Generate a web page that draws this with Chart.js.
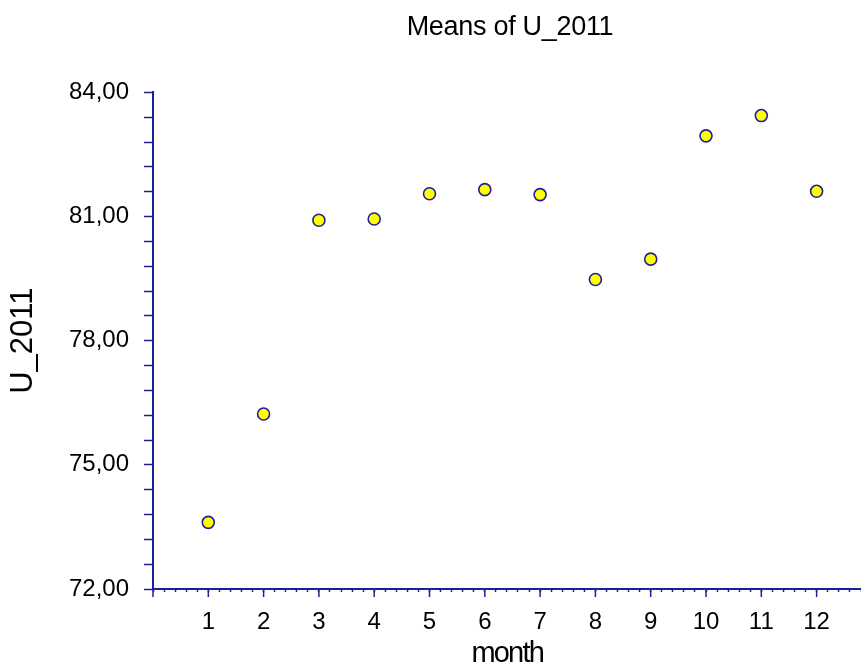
<!DOCTYPE html>
<html>
<head>
<meta charset="utf-8">
<script src="https://cdn.jsdelivr.net/npm/chart.js@4.4.1/dist/chart.umd.min.js"></script>
<style>
  html, body { margin: 0; background: #fff; overflow: hidden; }
  /* a bit wider than the window so the x axis runs off the right edge like the original */
  #wrap { width: 869px; height: 666px; }
</style>
</head>
<body>
<div id="wrap"><canvas id="meansChart"></canvas></div>
<script>
// data
const months = [1, 2, 3, 4, 5, 6, 7, 8, 9, 10, 11, 12];
const meansU2011 = [73.61, 76.23, 80.91, 80.94, 81.55, 81.65, 81.53, 79.48, 79.97, 82.95, 83.44, 81.61];
const yMajorTicks = [72, 75, 78, 81, 84];

const navy = "#1f1f99";
const fontFamily = "'Liberation Sans', Arial, sans-serif";

// formats 84 -> "84,00"
function fmtComma(v) {
    return v.toFixed(2).replace(".", ",");
}

// title is centred over the plot area, and title texts look condensed
const condensePlugin = {
    id: "condense",
    afterLayout(chart) {
        const ctx = chart.ctx;
        const tb = chart.titleBlock;
        if (tb && !tb._condensed) {
            const orig = tb.draw.bind(tb);
            tb.draw = function (area) {
                ctx.save();
                ctx.translate(153 + 708 / 2 + 3 - chart.width / 2, 0);
                ctx.letterSpacing = "-0.3px";
                orig(area);
                ctx.restore();
            };
            tb._condensed = true;
        }
        const xs = chart.scales.x;
        if (xs && !xs._condensed) {
            const origT = xs.drawTitle.bind(xs);
            xs.drawTitle = function () {
                ctx.save();
                ctx.letterSpacing = "-1.8px";
                origT();
                ctx.restore();
            };
            xs._condensed = true;
        }
    }
};

// longer ticks on whole months
const majorTickPlugin = {
    id: "majorTicks",
    afterDraw(chart) {
        const ctx = chart.ctx;
        const xs = chart.scales.x;
        const bottom = chart.chartArea.bottom;
        ctx.save();
        ctx.strokeStyle = navy;
        ctx.lineWidth = 1.5;
        for (let m = 0; m <= 12; m++) {
            const px = xs.getPixelForValue(m);
            ctx.beginPath();
            ctx.moveTo(px, bottom);
            ctx.lineTo(px, bottom + 8);
            ctx.stroke();
        }
        ctx.restore();
    }
};

const points = months.map((m, i) => ({ x: m, y: meansU2011[i] }));

new Chart(document.getElementById("meansChart"), {
    type: "scatter",
    data: {
        datasets: [{
            data: points,
            backgroundColor: "#ffff00",
            borderColor: navy,
            borderWidth: 1.6,
            pointRadius: 6,
            pointHoverRadius: 6
        }]
    },
    options: {
        responsive: true,
        maintainAspectRatio: false,
        animation: false,
        layout: { padding: 0 },
        plugins: {
            legend: { display: false },
            tooltip: { enabled: false },
            title: {
                display: true,
                text: "Means of U_2011",
                color: "#000",
                font: { family: fontFamily, size: 27, weight: "normal", lineHeight: 1.2 },
                padding: { top: 11, bottom: 49 },
                align: "center"
            }
        },
        scales: {
            x: {
                type: "linear",
                min: 0,
                max: 12.81,
                afterFit(scale) {
                    scale.height = 77;
                    scale.paddingRight = 0;
                    scale.paddingLeft = 0;
                },
                border: { color: navy, width: 2 },
                grid: { drawOnChartArea: false, tickLength: 3, tickColor: navy, tickWidth: 1.5 },
                ticks: {
                    stepSize: 0.2,
                    autoSkip: false,
                    maxRotation: 0,
                    padding: 16,
                    color: "#000",
                    font: { family: fontFamily, size: 24 },
                    callback(v) {
                        const r = Math.round(v);
                        if (Math.abs(v - r) < 1e-6 && months.includes(r)) return String(r);
                        return "";
                    }
                },
                title: {
                    display: true,
                    text: "month",
                    color: "#000",
                    font: { family: fontFamily, size: 29, lineHeight: 0.8 },
                    padding: { top: 0, bottom: 0 }
                }
            },
            y: {
                min: 72,
                max: 84,
                afterFit(scale) { scale.width = 153; },
                border: { color: navy, width: 2 },
                grid: { drawOnChartArea: false, tickLength: 9, tickColor: navy, tickWidth: 1.5 },
                ticks: {
                    stepSize: 0.6,
                    autoSkip: false,
                    padding: 15,
                    color: "#000",
                    font: { family: fontFamily, size: 24 },
                    callback(v) {
                        const hit = yMajorTicks.find(t => Math.abs(t - v) < 1e-6);
                        return hit !== undefined ? fmtComma(hit) : "";
                    }
                },
                title: {
                    display: true,
                    text: "U_2011",
                    color: "#000",
                    font: { family: fontFamily, size: 31, lineHeight: 1.2 },
                    padding: { top: 5, bottom: 0 }
                }
            }
        }
    },
    plugins: [condensePlugin, majorTickPlugin]
});
</script>
</body>
</html>
